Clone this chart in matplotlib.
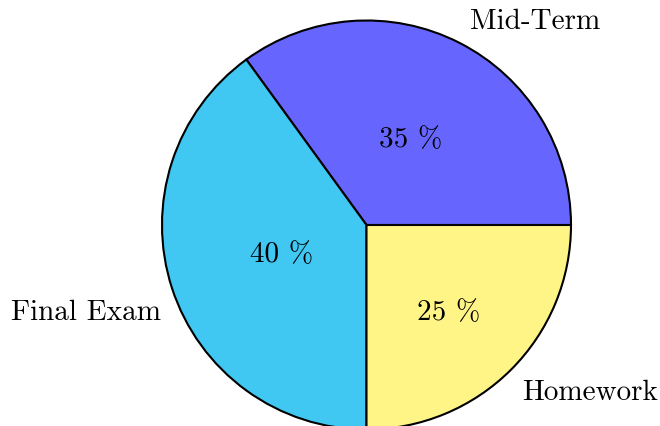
import matplotlib
matplotlib.use("Agg")
import matplotlib.pyplot as plt

labels = ["Mid-Term", "Final Exam", "Homework"]
shares = [35, 40, 25]
colors = ["#6666FF", "#40C8F2", "#FFF587"]

# pixel positions (x, y from top) of the text
name_pos = [(535, 22), (86, 313), (590, 393)]
pct_pos = [(411, 140), (282, 255), (449, 313)]

W, H = 660, 427


def main() -> None:
    plt.rcParams["font.family"] = ["cmr10", "DejaVu Serif"]
    plt.rcParams["axes.formatter.use_mathtext"] = True

    fig = plt.figure(figsize=(W / 100, H / 100), dpi=100)
    ax = fig.add_axes([0, 0, 1, 1])

    ax.pie(
        shares,
        colors=colors,
        startangle=0,
        counterclock=True,
        center=(366.5, H - 226),
        radius=204.5,
        wedgeprops={"edgecolor": "black", "linewidth": 1.5},
        frame=True,
    )
    ax.set_xlim(0, W)
    ax.set_ylim(0, H)
    ax.set_aspect("equal")
    ax.axis("off")

    for name, (x, y) in zip(labels, name_pos):
        ax.text(x, H - y, name, ha="center", va="center", fontsize=21)
    for share, (x, y) in zip(shares, pct_pos):
        ax.text(x, H - y, f"{share} %", ha="center", va="center", fontsize=21)

    fig.savefig("out.png", dpi=100)


if __name__ == "__main__":
    main()
